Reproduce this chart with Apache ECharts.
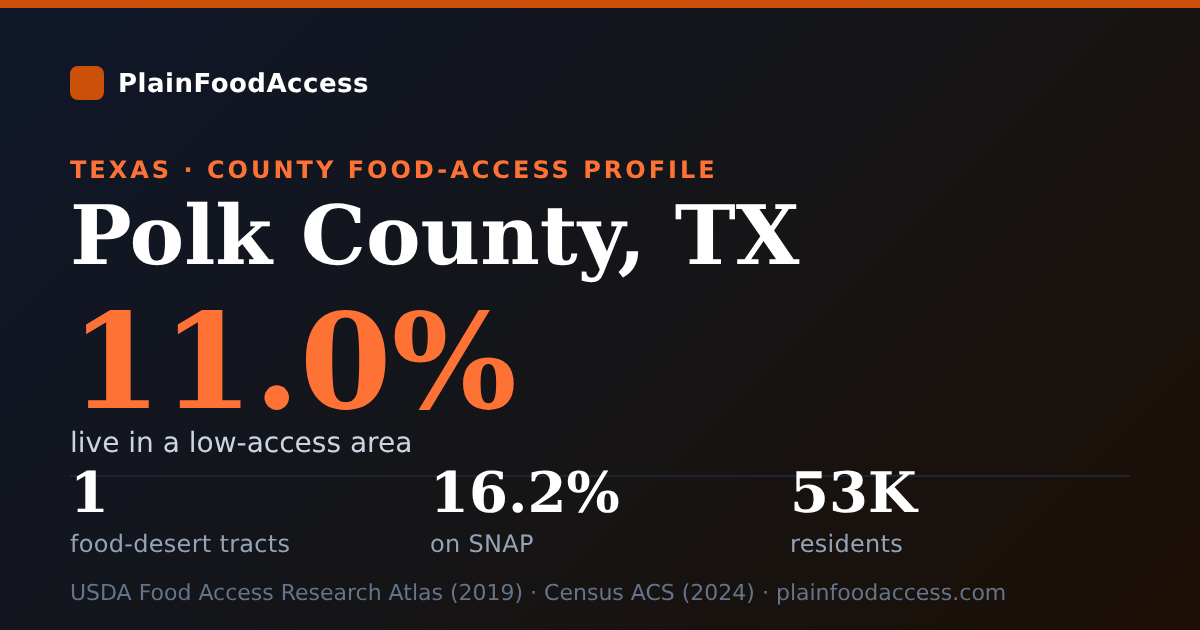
<!DOCTYPE html>
<html><head><meta charset="utf-8">
<style>html,body{margin:0;padding:0;background:#111}#c{width:1200px;height:630px}</style>
<script src="https://cdn.jsdelivr.net/npm/echarts@6/dist/echarts.min.js"></script>
</head><body><div id="c"></div>
<script>
var brand = "PlainFoodAccess";
var eyebrow = "TEXAS · COUNTY FOOD-ACCESS PROFILE";
var title = "Polk County, TX";
var headline = "11.0%";
var headlineLabel = "live in a low-access area";
var statValues = ["1", "16.2%", "53K"];
var statLabels = ["food-desert tracts", "on SNAP", "residents"];
var source = "USDA Food Access Research Atlas (2019) · Census ACS (2024) · plainfoodaccess.com";

var SANS = '"DejaVu Sans", sans-serif', SERIF = '"DejaVu Serif", serif';
var spacingByText = {};
var proto = CanvasRenderingContext2D.prototype, origFill = proto.fillText;
proto.fillText = function (t, x, y) {
  this.letterSpacing = (spacingByText[t] || 0) + 'px';
  this.textRendering = 'geometricPrecision';
  return origFill.call(this, t, x, y);
};
function txt(x, y, s, size, weight, family, fill, spacing) {
  if (spacing) spacingByText[s] = spacing;
  return {type:'text', x:x, y:y, style:{text:s, fontSize:size, fontWeight:weight, fontFamily:family, fill:fill, align:'left', verticalAlign:'top'}};
}
var els = [
  {type:'rect', shape:{x:0,y:0,width:1200,height:630}, style:{fill:new echarts.graphic.LinearGradient(142.5,-142.5,1057.5,772.5,[{offset:0,color:'#0f172a'},{offset:0.5,color:'#151518'},{offset:1,color:'#1c0f05'}],true)}},
  {type:'rect', shape:{x:0,y:0,width:1200,height:8}, style:{fill:'#cc4f0a'}},
  {type:'rect', shape:{x:70,y:66,width:34,height:34,r:8}, style:{fill:'#cc4f0a'}},
  txt(118, 72, brand, 26, 700, SANS, '#ffffff', 0.5),
  txt(70, 160, eyebrow, 24, 700, SANS, '#ff7235', 3),
  txt(70, 202, title, 82, 700, SERIF, '#ffffff', 0),
  txt(70, 308, headline, 132, 700, SERIF, '#ff7235', 0),
  txt(70, 431, headlineLabel, 28, 400, SANS, '#cbd5e1', 0),
  {type:'rect', shape:{x:70,y:475,width:1060,height:2}, style:{fill:'#1f2530'}}
];
var xs = [70, 430, 790];
statValues.forEach(function(v,i){
  els.push(txt(xs[i], 469, v, 56, 700, SERIF, '#ffffff', 0));
  els.push(txt(xs[i], 534, statLabels[i], 24, 400, SANS, '#94a3b8', 0.3));
});
els.push(txt(70, 583, source, 22, 400, SANS, '#64748b', 0));
var chart = echarts.init(document.getElementById('c'), null, {renderer:'canvas', width:1200, height:630});
chart.setOption({animation:false, graphic:{elements:els}});
</script></body></html>
